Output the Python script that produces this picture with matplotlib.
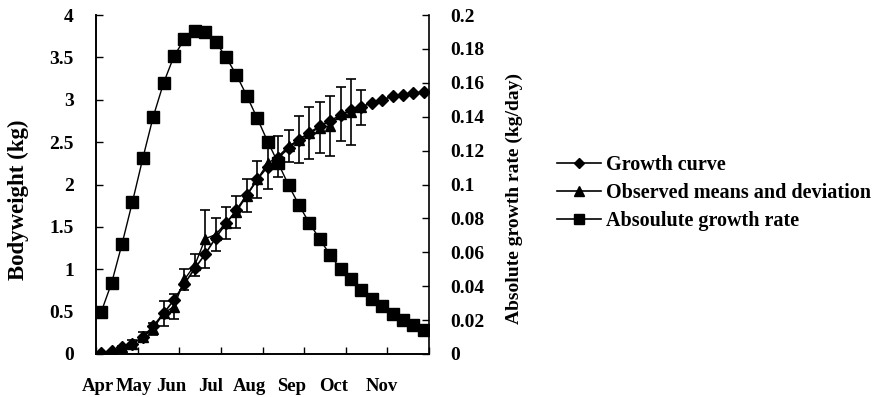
import matplotlib
matplotlib.use("Agg")
import matplotlib.pyplot as plt
from matplotlib.ticker import FuncFormatter, MultipleLocator
from matplotlib.lines import Line2D
import numpy as np

plt.rcParams['font.family'] = ['Liberation Serif', 'DejaVu Serif']
plt.rcParams['font.weight'] = 'bold'

# ---- data ----
growth_curve = [0.01, 0.03, 0.08, 0.12, 0.20, 0.33, 0.48, 0.64, 0.83, 1.01,
                1.18, 1.37, 1.54, 1.70, 1.88, 2.06, 2.21, 2.31, 2.43, 2.53,
                2.61, 2.69, 2.75, 2.82, 2.88, 2.92, 2.96, 3.00, 3.04, 3.06,
                3.08, 3.09]

obs_mean = [0.01, 0.03, 0.08, 0.12, 0.20, 0.30, 0.48, 0.56, 0.88, 1.05,
            1.36, 1.41, 1.55, 1.68, 1.87, 2.06, 2.25, 2.33, 2.45, 2.53,
            2.61, 2.67, 2.69, 2.83, 2.86, 2.91]
obs_sd = [0.005, 0.01, 0.02, 0.04, 0.06, 0.07, 0.15, 0.145, 0.12, 0.13,
          0.34, 0.19, 0.19, 0.19, 0.20, 0.215, 0.30, 0.245, 0.19, 0.275,
          0.305, 0.30, 0.355, 0.315, 0.39, 0.21]

growth_rate = [0.0248, 0.0419, 0.0649, 0.0897, 0.1155, 0.1400, 0.1600, 0.1758,
               0.1857, 0.1907, 0.1898, 0.1842, 0.1750, 0.1646, 0.1522, 0.1390,
               0.1253, 0.1127, 0.0997, 0.0879, 0.0773, 0.0678, 0.0584, 0.0501,
               0.0442, 0.0378, 0.0324, 0.0283, 0.0236, 0.0201, 0.0171, 0.0142]

month_labels = ['Apr', 'May', 'Jun', 'Jul', 'Aug', 'Sep', 'Oct', 'Nov']
month_label_pos = [-0.27, 3.12, 6.77, 10.52, 14.22, 18.31, 22.35, 26.96]

legend_labels = ['Growth curve', 'Observed means and deviation', 'Absoulute growth rate']

x_curve = np.arange(len(growth_curve))
x_obs = np.arange(len(obs_mean))
x_rate = np.arange(len(growth_rate))

# ---- figure ----
fig = plt.figure(figsize=(8.81, 3.97), dpi=100)
ax = fig.add_axes([96 / 881, 43 / 397, 333 / 881, 339 / 397])
ax2 = ax.twinx()

ax.errorbar(x_obs, obs_mean, yerr=obs_sd, fmt='-^', color='black', ms=7.5,
            lw=1, elinewidth=1.2, capsize=3.6, capthick=1.2, zorder=3)
ax.plot(x_curve, growth_curve, '-D', color='black', ms=6.5, lw=1.2, zorder=4)
ax2.plot(x_rate, growth_rate, '-s', color='black', ms=8.7, lw=1, zorder=5)

ax.set_xlim(-0.5, 31.5)
ax.set_ylim(0, 4)
ax2.set_ylim(0, 0.2)

ax.yaxis.set_major_locator(MultipleLocator(0.5))
ax2.yaxis.set_major_locator(MultipleLocator(0.02))
fmt = FuncFormatter(lambda v, p: '%g' % round(v, 4))
ax.yaxis.set_major_formatter(fmt)
ax2.yaxis.set_major_formatter(fmt)

ax.set_xticks(np.arange(-0.5, 31.6, 4))
ax.set_xticklabels([])
ax.set_xticks(month_label_pos, minor=True)
ax.set_xticklabels(month_labels, minor=True)
ax.tick_params(axis='x', which='major', direction='in', length=5, width=1)
ax.tick_params(axis='x', which='minor', length=0, pad=17, labelsize=13.5)

ax.tick_params(axis='y', direction='in', length=5, width=1, pad=16, labelsize=14)
ax2.tick_params(axis='y', direction='in', length=5, width=1, pad=15, labelsize=14)

for a in (ax, ax2):
    a.spines['top'].set_visible(False)
    for s in a.spines.values():
        s.set_linewidth(1.2)
ax.spines['right'].set_visible(False)

fig.text(18 / 881, 1 - 200 / 397, 'Bodyweight (kg)', rotation=90,
         ha='center', va='center', fontsize=16.5, fontweight='bold')
fig.text(514 / 881, 1 - 198 / 397, 'Absolute growth rate (kg/day)', rotation=90,
         ha='center', va='center', fontsize=14, fontweight='bold')

leg_handles = [Line2D([], [], color='black', marker='D', ms=5.5, lw=1.2),
               Line2D([], [], color='black', marker='^', ms=7, lw=1.2),
               Line2D([], [], color='black', marker='s', ms=6.5, lw=1.2)]
fig.legend(leg_handles, legend_labels, loc='center left',
           bbox_to_anchor=(557 / 881, 1 - 193 / 397), frameon=False,
           fontsize=14.5, handlelength=2.2, handletextpad=0.25, labelspacing=0.4,
           borderpad=0, borderaxespad=0)

fig.savefig('out.png', dpi=100)
